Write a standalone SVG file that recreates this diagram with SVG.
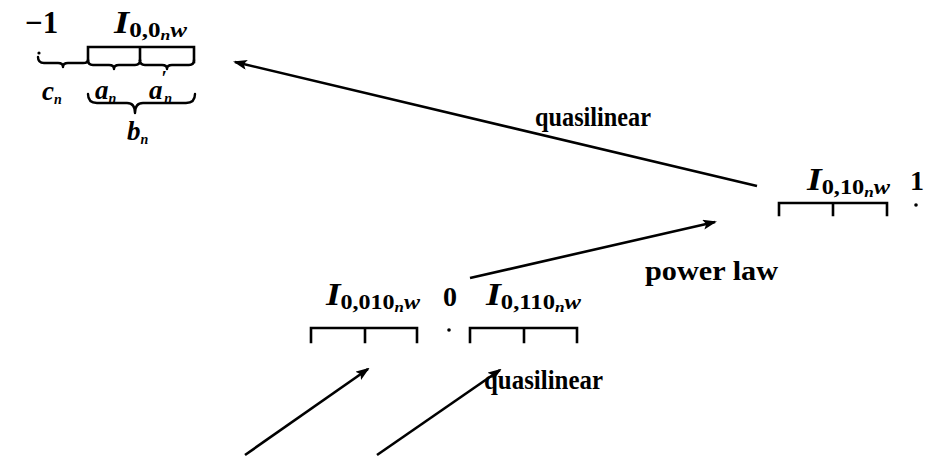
<svg xmlns="http://www.w3.org/2000/svg" width="928" height="460" viewBox="0 0 928 460">
<style>
text{font-family:"Liberation Serif","DejaVu Serif",serif;font-weight:bold;fill:#000}
.t{font-size:27px}
.m{font-size:31px;font-style:italic}
.v{font-size:27px;font-style:italic}
.s{font-size:20px;font-style:normal}
.ss{font-size:14px;font-style:italic}
.sw{font-size:20px;font-style:italic}
.pr{font-size:20px;font-style:normal}
.br{fill:none;stroke:#000;stroke-width:2.6;stroke-linecap:square}
.bc{fill:none;stroke:#000;stroke-width:2.4;stroke-linecap:round;stroke-linejoin:round}
.ar{fill:none;stroke:#000;stroke-width:2.6;marker-end:url(#ah)}
</style>
<defs>
<marker id="ah" markerWidth="14" markerHeight="10" refX="12" refY="5" orient="auto" markerUnits="userSpaceOnUse">
<path d="M0,0 L14,5 L0,10 L3,5 Z" fill="#000"/>
</marker>
</defs>
<rect width="928" height="460" fill="#fff"/>

<g id="connectors">
<line class="ar" x1="757" y1="186" x2="235" y2="62"/>
<line class="ar" x1="470" y1="278" x2="715" y2="222"/>
<line class="ar" x1="245" y1="455" x2="368" y2="369"/>
<line class="ar" x1="377" y1="455" x2="500" y2="370"/>
</g>

<g id="edge-labels">
<text class="t" x="535" y="126" textLength="116" lengthAdjust="spacingAndGlyphs">quasilinear</text>
<text class="t" x="645" y="280" textLength="133" lengthAdjust="spacingAndGlyphs">power law</text>
<text class="t" x="484" y="389" textLength="119" lengthAdjust="spacingAndGlyphs">quasilinear</text>
</g>

<g id="node-minus1">
<text class="t" x="25" y="33" style="font-size:31px">−1</text>
<text class="m" x="114" y="33" textLength="73" lengthAdjust="spacingAndGlyphs">I<tspan class="s" dy="4">0,0</tspan><tspan class="ss" dy="3">n</tspan><tspan class="sw" dy="-3">w</tspan></text>
<path class="br" d="M88,62 V47 H194 V62 M140,47 V60"/>
<circle cx="39" cy="53" r="1.6"/>
<path class="bc" d="M38,57 Q38,63 44,63 L58,63 Q63,63 63,67 Q63,63 68,63 L83,63 Q88,63 88,60"/>
<path class="bc" d="M88,60 Q88,65 93,65 L109,65 Q114,65 114,69 Q114,65 119,65 L135,65 Q140,65 140,60"/>
<path class="bc" d="M140,60 Q140,65 145,65 L162,65 Q167,65 167,69 Q167,65 172,65 L189,65 Q194,65 194,60"/>
<path class="bc" d="M88,94 Q88,103 97,103 L127,103 Q135,103 135,113 Q135,103 143,103 L186,103 Q195,103 195,94"/>
<text class="v" x="42" y="100">c<tspan class="ss" dy="4">n</tspan></text>
<text class="v" x="95" y="99">a<tspan class="ss" dy="4">n</tspan></text>
<text class="v" x="149" y="99">a<tspan class="pr" dx="-1" dy="-14">′</tspan><tspan class="ss" dx="-3" dy="18">n</tspan></text>
<text class="v" x="127" y="140">b<tspan class="ss" dy="4">n</tspan></text>
</g>

<g id="node-plus1">
<text class="m" x="807" y="190" textLength="83" lengthAdjust="spacingAndGlyphs">I<tspan class="s" dy="4">0,10</tspan><tspan class="ss" dy="3">n</tspan><tspan class="sw" dy="-3">w</tspan></text>
<text class="t" x="910" y="190" style="font-size:28px">1</text>
<circle cx="916" cy="205" r="1.8"/>
<path class="br" d="M779,215 V203 H887 V215 M833,203 V215"/>
</g>

<g id="node-zero">
<text class="m" x="326" y="305" textLength="94" lengthAdjust="spacingAndGlyphs">I<tspan class="s" dy="4">0,010</tspan><tspan class="ss" dy="3">n</tspan><tspan class="sw" dy="-3">w</tspan></text>
<text class="t" x="443" y="306" style="font-size:28px">0</text>
<circle cx="449" cy="330" r="1.8"/>
<text class="m" x="486" y="305" textLength="95" lengthAdjust="spacingAndGlyphs">I<tspan class="s" dy="4">0,110</tspan><tspan class="ss" dy="3">n</tspan><tspan class="sw" dy="-3">w</tspan></text>
<path class="br" d="M311,342 V328 H417 V342 M365,328 V342"/>
<path class="br" d="M470,342 V328 H577 V342 M524,328 V342"/>
</g>
</svg>
